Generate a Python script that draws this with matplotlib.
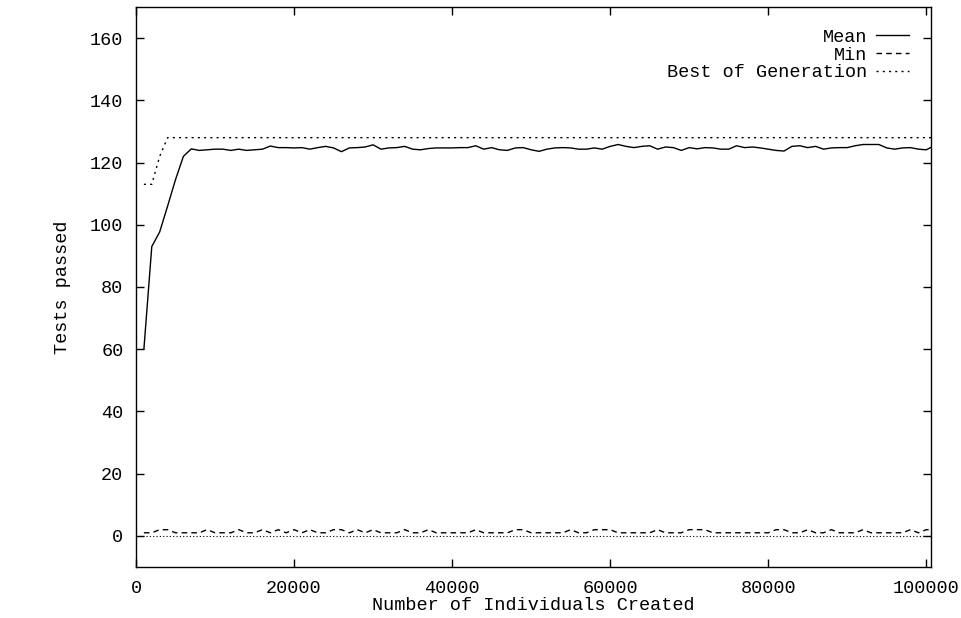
import matplotlib
matplotlib.use("Agg")
import matplotlib.pyplot as plt

# individuals created (one generation = 1000 individuals)
created = [1000 * k for k in range(1, 102)]

mean_passed = [60.0, 93.0, 97.7, 106.0, 114.5, 122.0, 124.4, 123.9, 124.1, 124.3,
               124.3, 123.9, 124.3, 123.9, 124.1, 124.3, 125.3, 124.8, 124.8, 124.7,
               124.8, 124.3, 124.8, 125.2, 124.7, 123.5, 124.7, 124.8, 125.0, 125.7,
               124.3, 124.7, 124.8, 125.2, 124.3, 124.1, 124.5, 124.7, 124.7, 124.7,
               124.8, 124.8, 125.4, 124.3, 124.8, 124.1, 123.9, 124.7, 124.8, 124.1,
               123.6, 124.3, 124.7, 124.8, 124.7, 124.3, 124.3, 124.7, 124.3, 125.2,
               125.8, 125.2, 124.8, 125.2, 125.4, 124.3, 125.0, 124.8, 123.9, 124.8,
               124.4, 124.8, 124.7, 124.3, 124.3, 125.4, 124.8, 125.0, 124.7, 124.3,
               123.9, 123.7, 125.2, 125.4, 124.8, 125.2, 124.3, 124.7, 124.8, 124.8,
               125.4, 125.8, 125.8, 125.8, 124.7, 124.3, 124.7, 124.8, 124.3, 124.1,
               125.4]

min_passed = [1, 1, 2, 2, 1, 1, 1, 1, 2, 1,
              1, 1, 2, 1, 1, 2, 1, 2, 1, 2,
              1, 2, 1, 1, 2, 2, 1, 2, 1, 2,
              1, 1, 1, 2, 1, 1, 2, 1, 1, 1,
              1, 1, 2, 1, 1, 1, 1, 2, 2, 1,
              1, 1, 1, 1, 2, 1, 1, 2, 2, 2,
              1, 1, 1, 1, 1, 2, 1, 1, 1, 2,
              2, 2, 1, 1, 1, 1, 1, 1, 1, 1,
              2, 2, 1, 1, 2, 1, 1, 2, 1, 1,
              1, 2, 1, 1, 1, 1, 1, 2, 1, 2,
              2]

best_passed = [113, 113, 122] + [128] * 98

plt.rcParams['font.family'] = ['Liberation Mono', 'DejaVu Sans Mono']
plt.rcParams['font.size'] = 13.3

fig = plt.figure(figsize=(9.61, 6.18), dpi=100)
ax = fig.add_axes([0.1415, 0.0825, 0.8273, 0.9062])

ax.plot(created, mean_passed, color='black', lw=1.0, label='Mean')
ax.plot(created, min_passed, color='black', lw=1.0, dashes=(4, 3), label='Min')
ax.plot(created, best_passed, color='black', lw=1.0, dashes=(1.5, 3), label='Best of Generation')

# zero axis
ax.axhline(0, color='black', lw=0.8, dashes=(1, 2))

ax.set_xlim(0, 100600)
ax.set_ylim(-10, 170)
ax.set_xticks(range(0, 100001, 20000))
ax.set_yticks(range(0, 161, 20))
ax.tick_params(direction='in', length=6, width=1, top=True, right=True)
ax.tick_params(axis='x', pad=9)
ax.tick_params(axis='y', pad=9)
for s in ax.spines.values():
    s.set_linewidth(1.0)

ax.set_xlabel('Number of Individuals Created', labelpad=0.7)
ax.set_ylabel('Tests passed', labelpad=13.6)

ax.legend(loc='upper right', frameon=False, markerfirst=False,
          handlelength=1.8, handletextpad=0.45, labelspacing=0.04,
          borderaxespad=1.0, bbox_to_anchor=(1.005, 1.007))

fig.savefig('out.png', dpi=100)
